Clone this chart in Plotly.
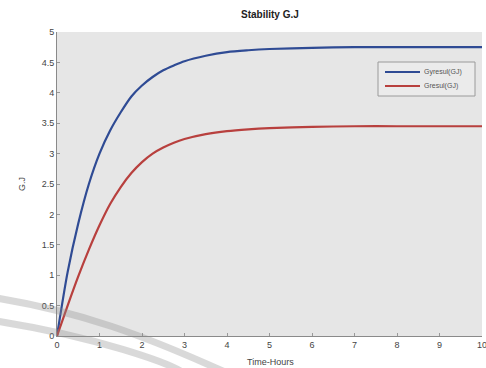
import plotly.graph_objects as go

# Time axis (hours) and the two responses
time_h = [0, 0.25, 0.5, 0.75, 1.0, 1.25, 1.5, 1.75, 2.0, 2.25, 2.5, 2.75, 3.0, 3.5, 4.0, 4.5,
          5.0, 6.0, 7.0, 8.0, 9.0, 10.0]
gy_result = [0, 1.05, 1.85, 2.5, 3.0, 3.38, 3.68, 3.94, 4.12, 4.26, 4.37, 4.45, 4.52, 4.61,
             4.67, 4.7, 4.72, 4.74, 4.75, 4.75, 4.75, 4.75]
g_result = [0, 0.5, 0.98, 1.42, 1.82, 2.17, 2.45, 2.68, 2.86, 3.0, 3.1, 3.18, 3.24, 3.32,
            3.37, 3.4, 3.42, 3.44, 3.45, 3.45, 3.45, 3.45]

series_names = ["Gyresul(GJ)", "Gresul(GJ)"]
series_colors = ["#2f4b94", "#b8403e"]
x_ticks = list(range(0, 11))
y_ticks = [0, 0.5, 1, 1.5, 2, 2.5, 3, 3.5, 4, 4.5, 5]
y_tick_text = ["0", "0.5", "1", "1.5", "2", "2.5", "3", "3.5", "4", "4.5", "5"]

W, H = 486, 368
L, R, T, B = 57, 4, 32, 32
PW, PH = W - L - R, H - T - B
FONT = "Liberation Sans, Arial"


def px(x, y):
    """pixel position -> paper coordinates"""
    return (x - L) / PW, (H - B - y) / PH


fig = go.Figure()
for name, ys, col in zip(series_names, [gy_result, g_result], series_colors):
    fig.add_trace(go.Scatter(x=time_h, y=ys, mode="lines", name=name, showlegend=False,
                             line=dict(color=col, width=2.2, shape="spline", smoothing=0.8)))

axis_font = dict(family=FONT, size=9, color="#444")
fig.update_xaxes(range=[0, 10], tickvals=x_ticks, ticks="inside", ticklen=3, tickcolor="#999",
                 showgrid=False, zeroline=False, showline=True, linecolor="#8a8a8a", linewidth=1,
                 tickfont=axis_font, ticklabeloverflow="allow")
fig.update_yaxes(range=[0, 5], tickvals=y_ticks, ticktext=y_tick_text, ticks="inside", ticklen=3,
                 tickcolor="#999", showgrid=False, zeroline=False, showline=True, linecolor="#8a8a8a",
                 linewidth=1, tickfont=axis_font, ticklabeloverflow="allow")

shapes = []
annotations = []

# decorative curved bands crossing the lower-left corner
bands = [
    [(-10, 297), (80, 311), (145, 336), (225, 372)],
    [(-10, 320), (100, 337), (170, 364), (182, 372)],
]
for pts in bands:
    p = [px(*q) for q in pts]
    path = "M {},{} C {},{} {},{} {},{}".format(p[0][0], p[0][1], p[1][0], p[1][1],
                                                 p[2][0], p[2][1], p[3][0], p[3][1])
    shapes.append(dict(type="path", path=path, xref="paper", yref="paper",
                       line=dict(color="rgba(140,140,140,0.33)", width=7), layer="above"))

# legend box
x0, y0 = px(378, 62)
x1, y1 = px(475, 96)
shapes.append(dict(type="rect", xref="paper", yref="paper", x0=x0, y0=y0, x1=x1, y1=y1,
                   fillcolor="#ebebeb", line=dict(color="#9a9a9a", width=1)))
for i, (name, col) in enumerate(zip(series_names, series_colors)):
    ly = 72 + 14 * i
    a0, b0 = px(385, ly)
    a1, _ = px(420, ly)
    shapes.append(dict(type="line", xref="paper", yref="paper", x0=a0, y0=b0, x1=a1, y1=b0,
                       line=dict(color=col, width=2.2)))
    tx, _ = px(422, ly)
    annotations.append(dict(text=name, x=tx, y=b0, xref="paper", yref="paper", showarrow=False,
                            xanchor="left", yanchor="middle",
                            font=dict(family=FONT, size=7, color="#555")))

tx, ty = px(270, 15)
xx, xy = px(270, 362)
yx, yy = px(22, 184)
centered = dict(xref="paper", yref="paper", showarrow=False, xanchor="center", yanchor="middle")
annotations += [
    dict(text="<b>Stability G.J</b>", x=tx, y=ty, font=dict(family=FONT, size=10, color="#222"),
         **centered),
    dict(text="Time-Hours", x=xx, y=xy, font=dict(family=FONT, size=9, color="#444"), **centered),
    dict(text="G.J", x=yx, y=yy, textangle=-90, font=dict(family=FONT, size=9, color="#444"),
         **centered),
]

fig.update_layout(
    width=W, height=H,
    margin=dict(l=L, r=R, t=T, b=B, autoexpand=False),
    paper_bgcolor="white", plot_bgcolor="#e6e6e6",
    showlegend=False,
    shapes=shapes, annotations=annotations,
)

fig.write_html("out.html")
